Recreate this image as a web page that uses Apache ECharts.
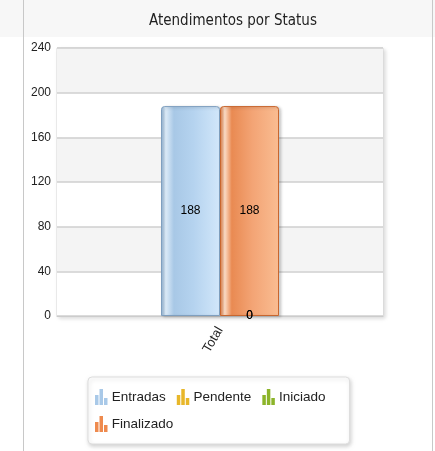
<!DOCTYPE html>
<html>
<head>
<meta charset="utf-8">
<script src="https://cdn.jsdelivr.net/npm/echarts@6/dist/echarts.min.js"></script>
<style>
  html, body { margin: 0; padding: 0; background: #fff; }
  #chart { width: 435px; height: 451px; }
</style>
</head>
<body>
<div id="chart"></div>
<script>
/* Atendimentos por Status */
var categories = ['Total'];
var entradas = [188];
var pendente = [0];
var iniciado = [0];
var finalizado = [188];
var yTicks = [0, 40, 80, 120, 160, 200, 240];

(function () {
  var myChart = echarts.init(document.getElementById('chart'));
  var barIcon = 'path://M0,6 L3.5,6 L3.5,16 L0,16 Z M4.5,0 L8,0 L8,16 L4.5,16 Z M9,9 L12.5,9 L12.5,16 L9,16 Z';
  var font = 'Liberation Sans, Arial, sans-serif';

  function grad(stops) {
    return new echarts.graphic.LinearGradient(0, 0, 1, 0, stops);
  }

  var labelIn = { show: true, position: 'inside', color: '#000', fontSize: 12, fontFamily: font };

  var option = {
    animation: false,
    textStyle: { fontFamily: font },
    title: {
      text: 'Atendimentos por Status',
      left: 144,
      top: 9,
      textStyle: { fontSize: 15, fontWeight: 'normal', color: '#222', fontFamily: 'DejaVu Sans Condensed, DejaVu Sans' }
    },
    graphic: [
      { type: 'rect', z: -10, shape: { x: 0, y: 0, width: 435, height: 37 }, style: { fill: '#f7f7f7' } },
      { type: 'line', z: -5, shape: { x1: 23.5, y1: 0, x2: 23.5, y2: 451 }, style: { stroke: '#c8c8c8', lineWidth: 1 } },
      { type: 'line', z: -5, shape: { x1: 432.5, y1: 0, x2: 432.5, y2: 451 }, style: { stroke: '#c8c8c8', lineWidth: 1 } }
    ],
    legend: {
      left: 88,
      top: 377,
      width: 250,
      padding: [12, 24, 12, 7],
      itemGap: 11,
      itemWidth: 13,
      itemHeight: 16,
      backgroundColor: '#fff',
      borderColor: '#ddd',
      borderWidth: 1,
      borderRadius: 4,
      shadowColor: 'rgba(0,0,0,0.18)',
      shadowBlur: 4,
      shadowOffsetX: 1,
      shadowOffsetY: 2,
      itemStyle: { borderWidth: 0 },
      textStyle: { fontSize: 13.5, color: '#222', fontFamily: font, padding: [0, 0, 0, -1] },
      data: [
        { name: 'Entradas', icon: barIcon, itemStyle: { color: '#a9c9e8', borderWidth: 0 } },
        { name: 'Pendente', icon: barIcon, itemStyle: { color: '#e8b72a', borderWidth: 0 } },
        { name: 'Iniciado', icon: barIcon, itemStyle: { color: '#8cb42a', borderWidth: 0 } },
        { name: 'Finalizado', icon: barIcon, itemStyle: { color: '#ee8a4e', borderWidth: 0 } }
      ]
    },
    grid: {
      left: 57,
      right: 52,
      top: 48,
      bottom: 135,
      show: true,
      borderColor: '#d8d8d8',
      borderWidth: 1,
      shadowColor: 'rgba(0,0,0,0.15)',
      shadowBlur: 4,
      shadowOffsetX: 2,
      shadowOffsetY: 2,
      backgroundColor: '#fff'
    },
    xAxis: {
      type: 'category',
      data: categories,
      axisLine: { show: true, lineStyle: { color: '#ccc' } },
      axisTick: { show: false },
      axisLabel: { rotate: 60, color: '#222', fontSize: 13, margin: 12 }
    },
    yAxis: {
      type: 'value',
      min: yTicks[0],
      max: yTicks[yTicks.length - 1],
      interval: 40,
      axisLine: { show: false },
      axisTick: { show: false },
      axisLabel: { color: '#222', fontSize: 12, margin: 6 },
      splitLine: { show: true, lineStyle: { color: '#cfcfcf', width: 1.5 } },
      splitArea: { show: true, areaStyle: { color: ['#ffffff', '#f4f4f4'] } }
    },
    series: [
      {
        name: 'Entradas', type: 'bar', stack: 'a', data: entradas,
        barWidth: 59, barGap: '0%',
        label: labelIn,
        itemStyle: {
          color: grad([
            { offset: 0, color: '#8eb1d3' },
            { offset: 0.08, color: '#dcebf8' },
            { offset: 0.22, color: '#a8c8e6' },
            { offset: 0.55, color: '#b5d3ef' },
            { offset: 1, color: '#d2e7fa' }
          ]),
          borderColor: '#7f9fbf', borderWidth: 1, borderRadius: [3, 3, 0, 0],
          shadowColor: 'rgba(0,0,0,0.2)', shadowBlur: 3, shadowOffsetX: 2, shadowOffsetY: 1
        }
      },
      {
        name: 'Pendente', type: 'bar', stack: 'b', data: pendente,
        barWidth: 59, barGap: '0%',
        label: labelIn,
        itemStyle: { color: '#e8b72a' }
      },
      {
        name: 'Iniciado', type: 'bar', stack: 'b', data: iniciado,
        barWidth: 59, barGap: '0%',
        label: labelIn,
        itemStyle: { color: '#8cb42a' }
      },
      {
        name: 'Finalizado', type: 'bar', stack: 'b', data: finalizado,
        barWidth: 59, barGap: '0%',
        label: labelIn,
        itemStyle: {
          color: grad([
            { offset: 0, color: '#e07a40' },
            { offset: 0.08, color: '#fbdcc6' },
            { offset: 0.2, color: '#e98a52' },
            { offset: 0.55, color: '#f3a475' },
            { offset: 1, color: '#fabd92' }
          ]),
          borderColor: '#c8662e', borderWidth: 1, borderRadius: [3, 3, 0, 0],
          shadowColor: 'rgba(0,0,0,0.2)', shadowBlur: 3, shadowOffsetX: 2, shadowOffsetY: 1
        }
      }
    ]
  };
  myChart.setOption(option);
})();
</script>
</body>
</html>
